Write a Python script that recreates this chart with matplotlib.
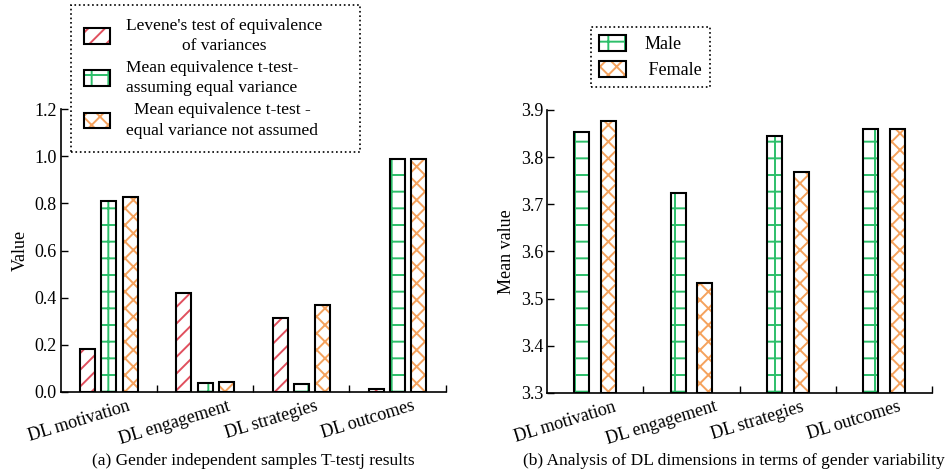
import matplotlib
matplotlib.use("Agg")
import matplotlib.pyplot as plt
import matplotlib.transforms as mtransforms
from matplotlib.patches import Patch
import numpy as np

plt.rcParams['font.family'] = ['Liberation Serif', 'DejaVu Serif']
plt.rcParams['hatch.linewidth'] = 1.4

categories = ["DL motivation", "DL engagement", "DL strategies", "DL outcomes"]

# (a) T-test results
levene = [0.182, 0.421, 0.314, 0.011]
equal_var = [0.811, 0.037, 0.034, 0.99]
unequal_var = [0.828, 0.044, 0.370, 0.99]
labels_a = ["Levene's test of equivalence\nof variances",
            "Mean equivalence t-test-\nassuming equal variance",
            "Mean equivalence t-test -\nequal variance not assumed"]

# (b) gender means
male = [3.854, 3.725, 3.845, 3.859]
female = [3.877, 3.533, 3.768, 3.859]
labels_b = ["Male", " Female"]

red = "#e0505e"
green = "#2dbf6a"
orange = "#f5a25d"

fig = plt.figure(figsize=(9.5, 4.74), dpi=100)
ax1 = fig.add_axes([0.064, 0.173, 0.405, 0.597])
ax2 = fig.add_axes([0.576, 0.171, 0.405, 0.597])

x = np.arange(len(categories))
w = 0.156


def hatched_bars(ax, xs, vals, color, hatch, bottom=0):
    h = [v - bottom for v in vals]
    ax.bar(xs, h, w, bottom=bottom, color="white", edgecolor=color,
           hatch=hatch, linewidth=0, zorder=2)
    ax.bar(xs, h, w, bottom=bottom, fill=False, edgecolor="black",
           linewidth=1.5, zorder=3)
    return (Patch(facecolor="white", edgecolor=color, hatch=hatch, linewidth=0),
            Patch(fill=False, edgecolor="black", linewidth=1.5))


h1 = hatched_bars(ax1, x - 0.22, levene, red, "//")
h2 = hatched_bars(ax1, x, equal_var, green, "+")
h3 = hatched_bars(ax1, x + 0.22, unequal_var, orange, "xx")

h4 = hatched_bars(ax2, x - 0.14, male, green, "+", bottom=3.3)
h5 = hatched_bars(ax2, x + 0.14, female, orange, "xx", bottom=3.3)

ax1.set_ylim(0, 1.2)
ax1.set_yticks(np.arange(0, 1.21, 0.2))
ax1.yaxis.set_major_formatter(matplotlib.ticker.FormatStrFormatter('%.1f'))
ax1.set_ylabel("Value", fontsize=13)

ax2.set_ylim(3.3, 3.9)
ax2.set_yticks(np.arange(3.3, 3.91, 0.1))
ax2.yaxis.set_major_formatter(matplotlib.ticker.FormatStrFormatter('%.1f'))
ax2.set_ylabel("Mean value", fontsize=13)

offset = mtransforms.ScaledTranslation(-0.30, 0, fig.dpi_scale_trans)
for ax in (ax1, ax2):
    ax.set_xlim(-0.5, 3.5)
    ax.set_xticks(x)
    ax.set_xticklabels(categories, rotation=17, ha="center", fontsize=13)
    ax.set_xticks(x + 0.5, minor=True)
    ax.tick_params(axis="x", which="major", length=0, pad=4)
    ax.tick_params(axis="x", which="minor", direction="in", length=5, width=1)
    ax.tick_params(axis="y", direction="in", length=5, width=1, labelsize=13, pad=3)
    for lab in ax.get_xticklabels():
        lab.set_transform(lab.get_transform() + offset)
    for s in ("top", "right"):
        ax.spines[s].set_visible(False)
    for s in ("left", "bottom"):
        ax.spines[s].set_linewidth(1.2)

leg1 = fig.legend([h1, h2, h3], labels_a, loc="upper left", mode="expand",
                  bbox_to_anchor=(0.075, 0.675, 0.304, 0.315),
                  bbox_transform=fig.transFigure,
                  fontsize=12.5, fancybox=False, edgecolor="black",
                  handlelength=1.5, handleheight=1.0, borderaxespad=0,
                  labelspacing=0.35, borderpad=0.75, handletextpad=0.9, framealpha=1)
leg1.get_frame().set_linestyle(":")
leg1.get_frame().set_linewidth(1.2)
for t in leg1.get_texts():
    t.set_multialignment("center")
    t.set_linespacing(1.35)

leg2 = fig.legend([h4, h5], labels_b, loc="upper left",
                  bbox_to_anchor=(0.622, 0.943), bbox_transform=fig.transFigure,
                  fontsize=13, fancybox=False, edgecolor="black",
                  handlelength=1.5, handleheight=1.0, borderaxespad=0,
                  labelspacing=0.4, borderpad=0.45, handletextpad=1.0, framealpha=1)
leg2.get_frame().set_linestyle(":")
leg2.get_frame().set_linewidth(1.2)

fig.text(0.267, 0.02, "(a) Gender independent samples T-testj results",
         ha="center", fontsize=12.5)
fig.text(0.772, 0.02, "(b) Analysis of DL dimensions in terms of gender variability",
         ha="center", fontsize=12.5)

fig.savefig("out.png", dpi=100)
